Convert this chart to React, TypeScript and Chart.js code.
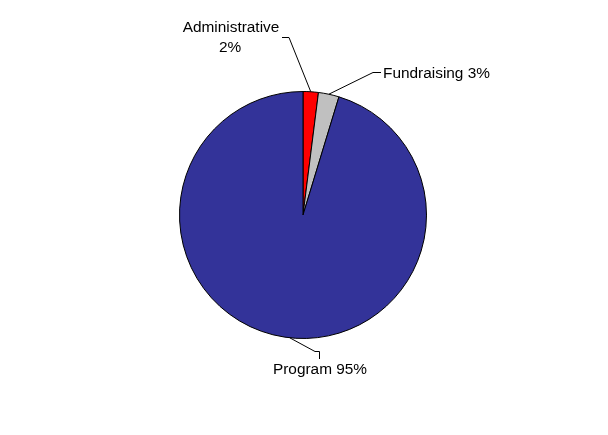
import React, { useEffect, useRef } from "react";
import { Chart, registerables } from "chart.js";

Chart.register(...registerables);

const categories = ["Administrative", "Fundraising", "Program"];
const values = [2.0, 2.7, 95.3];
const percentLabels = ["2%", "3%", "95%"];
const colors = ["#FF0000", "#C0C0C0", "#333399"];

const FONT = "15.4px 'Liberation Sans', Arial, sans-serif";

const leaderPlugin = {
  id: "leaders",
  afterDatasetsDraw(chart: any) {
    const ctx = chart.ctx;
    const meta = chart.getDatasetMeta(0);
    ctx.save();
    ctx.strokeStyle = "#000";
    ctx.lineWidth = 1;
    ctx.fillStyle = "#000";
    ctx.font = FONT;
    meta.data.forEach((arc: any, i: number) => {
      const { x, y, startAngle, endAngle, outerRadius } = arc.getProps(
        ["x", "y", "startAngle", "endAngle", "outerRadius"],
        true
      );
      let mid = (startAngle + endAngle) / 2;
      if (i === 2) mid -= 0.04;
      const ax = x + Math.cos(mid) * outerRadius;
      const ay = y + Math.sin(mid) * outerRadius;
      ctx.beginPath();
      if (i === 0) {
        const ex = x - 14, ey = y - 178;
        ctx.moveTo(ax, ay);
        ctx.lineTo(ex, ey + 0.5);
        ctx.lineTo(ex - 7, ey + 0.5);
        ctx.stroke();
        ctx.textAlign = "center";
        ctx.textBaseline = "alphabetic";
        ctx.fillText(categories[i], ex - 58, ey - 5.5);
        ctx.fillText(percentLabels[i], ex - 59, ey + 14.5);
      } else if (i === 1) {
        const ex = x + 70, ey = y - 143;
        ctx.moveTo(ax, ay);
        ctx.lineTo(ex, ey + 0.5);
        ctx.lineTo(ex + 8, ey + 0.5);
        ctx.stroke();
        ctx.textAlign = "left";
        ctx.textBaseline = "alphabetic";
        ctx.fillText(categories[i] + " " + percentLabels[i], ex + 10, ey + 5.5);
      } else {
        const ex = x + 12, ey = y + 136;
        ctx.moveTo(ax, ay);
        ctx.lineTo(ex, ey + 0.5);
        ctx.lineTo(ex + 4.5, ey + 0.5);
        ctx.lineTo(ex + 4.5, ey + 8);
        ctx.stroke();
        ctx.textAlign = "center";
        ctx.textBaseline = "alphabetic";
        ctx.fillText(categories[i] + " " + percentLabels[i], ex + 5, ey + 22.5);
      }
    });
    ctx.restore();
  },
};

export default function App() {
  const canvasRef = useRef<HTMLCanvasElement | null>(null);

  useEffect(() => {
    if (!canvasRef.current) return;
    const chart = new Chart(canvasRef.current, {
      type: "pie",
      data: {
        labels: categories,
        datasets: [
          {
            data: values,
            backgroundColor: colors,
            borderColor: "#000000",
            borderWidth: 1,
          },
        ],
      },
      options: {
        responsive: false,
        animation: false,
        layout: { padding: { left: 179, right: 181, top: 91, bottom: 96 } },
        plugins: {
          legend: { display: false },
          tooltip: { enabled: false },
        },
      },
      plugins: [leaderPlugin],
    });
    return () => chart.destroy();
  }, []);

  return (
    <div
      style={{
        position: "absolute",
        left: 0,
        top: 0,
        width: 608,
        height: 435,
        background: "#fff",
      }}
    >
      <canvas ref={canvasRef} width={608} height={435} />
    </div>
  );
}
